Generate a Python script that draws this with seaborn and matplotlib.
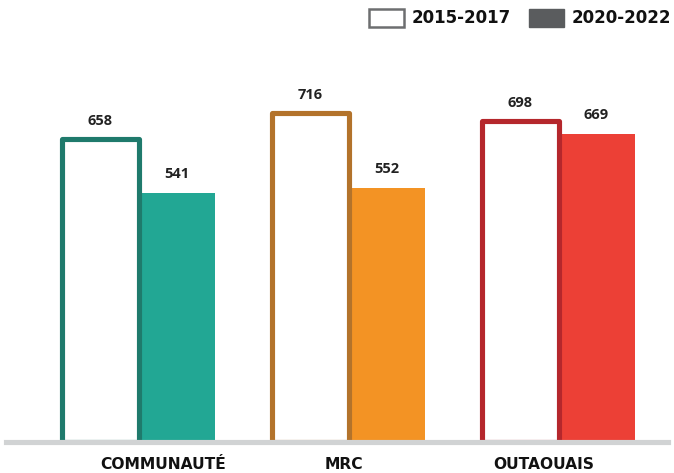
import matplotlib
matplotlib.use("Agg")
import matplotlib.pyplot as plt
from matplotlib.patches import Patch
import seaborn as sns
import pandas as pd

# Data
regions = ["COMMUNAUTÉ", "MRC", "OUTAOUAIS"]
periods = ["2015-2017", "2020-2022"]
values_2015 = [658, 716, 698]
values_2020 = [541, 552, 669]

# Palette per region: (outline for first period, fill for second period)
outline_colors = ["#1f7a6c", "#b3732b", "#b5272c"]
fill_colors = ["#22a794", "#f39324", "#ec4036"]

df = pd.DataFrame({
    "region": regions * 2,
    "period": [periods[0]] * 3 + [periods[1]] * 3,
    "value": values_2015 + values_2020,
})

W, H = 674, 473
fig = plt.figure(figsize=(W / 100, H / 100), dpi=100)
base_px = 442  # baseline distance from top
ax = fig.add_axes([0, (H - base_px) / H, 1, base_px / H])

sns.barplot(data=df, x="region", y="value", hue="period", order=regions,
            hue_order=periods, width=0.724, dodge=True, saturation=1,
            palette=["#ffffff", "#5a5c5e"], legend=False, ax=ax)

old_bars, new_bars = ax.containers[0], ax.containers[1]
for i, bar in enumerate(old_bars):
    bar.set_facecolor("white")
    bar.set_edgecolor(outline_colors[i])
    bar.set_linewidth(3.7)
    bar.set_joinstyle("round")
    bar.set_zorder(3)
for i, bar in enumerate(new_bars):
    bar.set_facecolor(fill_colors[i])
    bar.set_edgecolor("none")
    bar.set_linewidth(0)
    bar.set_zorder(2)

label_kw = dict(fontsize=10.5, fontweight="bold", color="#222222",
                family=["Open Sans", "DejaVu Sans"])
ax.bar_label(old_bars, labels=[str(v) for v in values_2015], padding=8, **label_kw)
ax.bar_label(new_bars, labels=[str(v) for v in values_2020], padding=9, **label_kw)

ax.set_xlim(-138.5 / 210, (W - 138.5) / 210)
ax.set_ylim(0, base_px / 0.46)

# Baseline
ax.axhline(0, xmin=6 / W, xmax=668 / W, color="#d1d3d4", lw=3.7,
           zorder=5, clip_on=False)

# Category labels
label_shift = [0.117, -0.024, -0.071]
ax.set_xticks([i + s for i, s in enumerate(label_shift)], regions)
ax.tick_params(axis="x", length=0, pad=11)
for t in ax.get_xticklabels():
    t.set_fontsize(11.2)
    t.set_fontweight("bold")
    t.set_color("#111111")
    t.set_family(["DejaVu Sans"])
ax.set_yticks([])
ax.set_xlabel("")
ax.set_ylabel("")
for s in ax.spines.values():
    s.set_visible(False)

# Legend
handles = [
    Patch(facecolor="white", edgecolor="#6d6e70", linewidth=1.8, label=periods[0]),
    Patch(facecolor="#5a5c5e", edgecolor="#5a5c5e", linewidth=1.0, label=periods[1]),
]
leg = fig.legend(handles=handles, loc="upper right",
                 bbox_to_anchor=(671 / W, 1 - 9 / H), ncol=2, frameon=False,
                 handlelength=2.1, handleheight=1.26, handletextpad=0.48,
                 columnspacing=1.05, borderpad=0, borderaxespad=0,
                 prop={"family": "DejaVu Sans", "weight": "bold", "size": 12})
for t in leg.get_texts():
    t.set_color("#111111")

fig.savefig("out.png", dpi=100)
